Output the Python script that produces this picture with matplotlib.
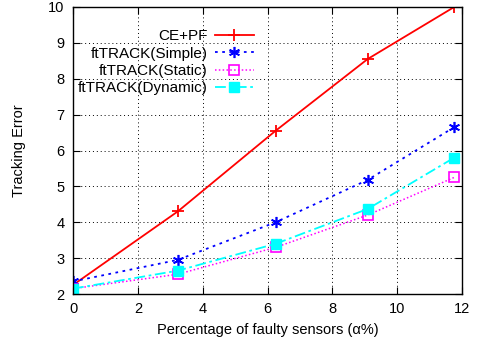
import numpy as np
import matplotlib.pyplot as plt

plt.rcParams['font.family'] = ['Liberation Sans', 'DejaVu Sans']

x = [0, 3.23, 6.25, 9.09, 11.76]
ce_pf = [2.25, 4.3, 6.55, 8.55, 10.0]
ft_simple = [2.35, 2.95, 4.0, 5.18, 6.65]
ft_static = [2.15, 2.55, 3.3, 4.2, 5.25]
ft_dynamic = [2.15, 2.65, 3.4, 4.37, 5.8]

fig = plt.figure(figsize=(4.78, 3.47), dpi=100)
ax = fig.add_axes([73 / 478, 1 - 294 / 347, (462 - 73) / 478, (294 - 7) / 347])

ax.plot(x, ce_pf, color='red', lw=1.3, marker='+', ms=8, mew=1.3, label='CE+PF')
ax.plot(x, ft_simple, color='blue', lw=1.3, ls=(0, (1.5, 2.5)), marker=(6, 2, 0), ms=8, mew=1.2,
        label='ftTRACK(Simple)')
ax.plot(x, ft_static, color='magenta', lw=1.1, ls=(0, (1, 1.5)), marker='s', ms=7, mfc='none', mew=1.2,
        label='ftTRACK(Static)')
ax.plot(x, ft_dynamic, color='cyan', lw=1.3, ls=(0, (6, 2, 1.5, 2)), marker='s', ms=7,
        label='ftTRACK(Dynamic)')

ax.set_xlim(0, 12)
ax.set_ylim(2, 10)
ax.set_xticks(np.arange(0, 13, 2))
ax.set_yticks(np.arange(2, 11, 1))
ax.grid(True, color='black', ls=(0, (1, 3)), lw=0.7)
ax.tick_params(direction='in', top=True, right=True, labelsize=10.5, length=5, pad=6)
for s in ax.spines.values():
    s.set_linewidth(1.0)

ax.set_xlabel('Percentage of faulty sensors (\u03b1%)', fontsize=10.5, labelpad=5)
ax.set_ylabel('Tracking Error', fontsize=10.5, labelpad=16)

ax.legend(loc='upper left', bbox_to_anchor=(-0.015, 0.96), frameon=False, markerfirst=False,
          fontsize=11, handlelength=2.5, labelspacing=0.22, borderaxespad=0.3, handletextpad=0.5)

fig.savefig('out.png', dpi=100)
